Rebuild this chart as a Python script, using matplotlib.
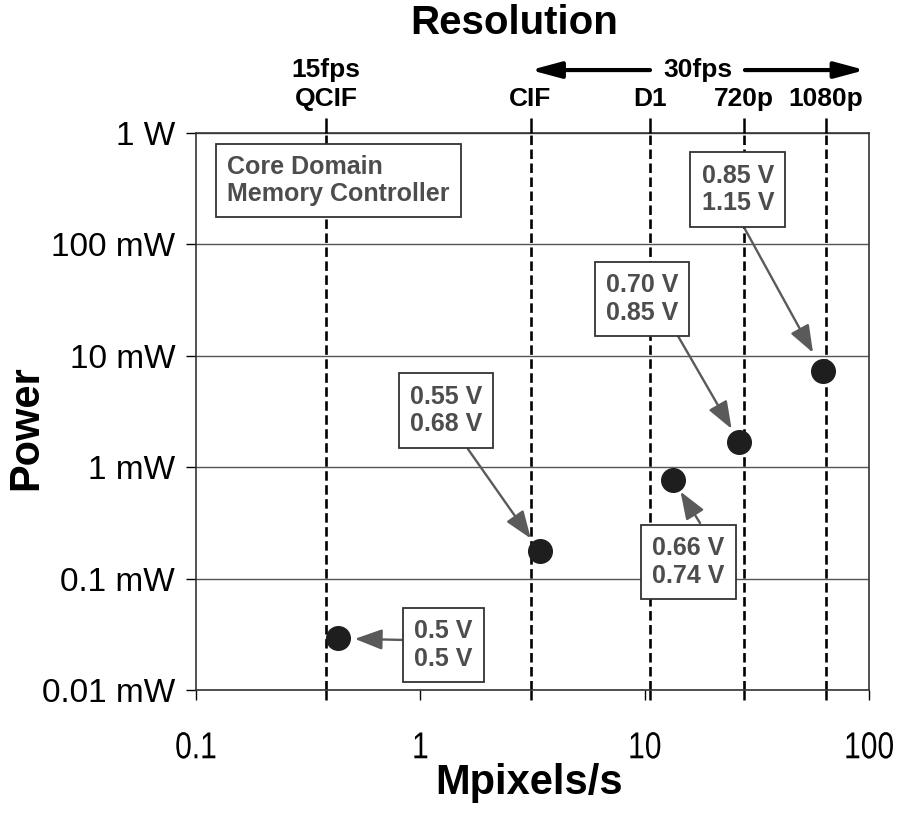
import matplotlib
matplotlib.use("Agg")
import matplotlib.pyplot as plt
from matplotlib.ticker import FixedLocator, NullLocator, NullFormatter
from matplotlib.patheffects import AbstractPathEffect
from matplotlib.transforms import Affine2D

# Video resolutions and their pixel rates (Mpixels/s)
res_names = ["QCIF", "CIF", "D1", "720p", "1080p"]
res_rate = [0.38, 3.1, 10.6, 27.7, 64.0]

# Operating points: throughput (Mpixels/s) and power (mW)
pt_rate = [0.43, 3.4, 13.4, 26.4, 62.4]
pt_power = [0.029, 0.177, 0.77, 1.68, 7.3]

# Supply voltages for each point: core domain / memory controller
v_core = ["0.5 V", "0.55 V", "0.66 V", "0.70 V", "0.85 V"]
v_mem = ["0.5 V", "0.68 V", "0.74 V", "0.85 V", "1.15 V"]

x_ticks = [0.1, 1, 10, 100]
x_tick_labels = ["0.1", "1", "10", "100"]
y_ticks = [0.01, 0.1, 1, 10, 100, 1000]
y_tick_labels = ["0.01 mW", "0.1 mW", "1 mW", "10 mW", "100 mW", "1 W"]

plt.rcParams["font.family"] = ["Liberation Sans", "DejaVu Sans"]


class Squeeze(AbstractPathEffect):
    """Narrow glyph outlines horizontally about the text's own centre."""

    def __init__(self, sx=0.82):
        super().__init__()
        self.sx = sx

    def draw_path(self, renderer, gc, tpath, affine, rgbFace=None):
        ext = tpath.get_extents()
        cx = 0.5 * (ext.x0 + ext.x1)
        squeeze = Affine2D().translate(-cx, 0).scale(self.sx, 1).translate(cx, 0)
        renderer.draw_path(gc, tpath, squeeze + affine, rgbFace)


W, H = 900, 824
fig = plt.figure(figsize=(W / 100, H / 100), dpi=100)
ax = fig.add_axes([196 / W, 134 / H, 673 / W, 557 / H])
ax.set_xscale("log")
ax.set_yscale("log")
ax.set_xlim(0.1, 100)
ax.set_ylim(0.01, 1000)

for s in ax.spines.values():
    s.set_color("#333333")
    s.set_linewidth(1.2)

# horizontal decade grid
ax.yaxis.grid(True, color="#555555", lw=1.0, zorder=1)
ax.set_axisbelow(True)

# resolution markers
for xr in res_rate:
    ax.axvline(xr, color="black", lw=1.9, linestyle=(0, (3.6, 1.7)), zorder=2)

# operating points
ax.plot(pt_rate, pt_power, "o", ms=17, color="#1e1e1e", zorder=5)

# bottom axis
ax.xaxis.set_major_locator(FixedLocator(x_ticks))
ax.set_xticklabels(x_tick_labels, fontsize=27)
for lab in ax.get_xticklabels():
    lab.set_path_effects([Squeeze(0.8)])
ax.xaxis.set_minor_locator(FixedLocator(res_rate))
ax.xaxis.set_minor_formatter(NullFormatter())
ax.tick_params(axis="x", which="major", direction="out", length=7, width=1.0,
               pad=22, colors="black")
ax.tick_params(axis="x", which="minor", direction="out", length=7, width=1.8)

# left axis
ax.yaxis.set_major_locator(FixedLocator(y_ticks))
ax.yaxis.set_minor_locator(NullLocator())
ax.set_yticklabels(y_tick_labels, fontsize=24)
ax.tick_params(axis="y", direction="out", length=7, width=1.0, pad=8)

# top axis with resolution names
axt = ax.twiny()
axt.set_xscale("log")
axt.set_xlim(ax.get_xlim())
axt.xaxis.set_major_locator(FixedLocator(res_rate))
axt.xaxis.set_minor_locator(NullLocator())
axt.set_xticklabels(res_names, fontsize=19, fontweight="bold")
axt.tick_params(axis="x", direction="out", length=11, width=1.8, pad=5)
for s in axt.spines.values():
    s.set_visible(False)

# frame-rate annotations above the resolution names
row_y = 1.113
xt = ax.get_xaxis_transform()
ax.text(res_rate[0], row_y, "15fps", transform=xt, ha="center", va="center",
        fontsize=19, fontweight="bold")
ax.text(0.746, row_y, "30fps", transform=ax.transAxes, ha="center", va="center",
        fontsize=19, fontweight="bold")
head = "-|>,head_length=1.3,head_width=0.35"
ax.annotate("", xy=(res_rate[1], row_y), xycoords=xt,
            xytext=(0.6746, row_y), textcoords="axes fraction",
            arrowprops=dict(arrowstyle=head, color="black", lw=3,
                            mutation_scale=14, shrinkA=0, shrinkB=0),
            annotation_clip=False)
ax.annotate("", xy=(0.994, row_y), xycoords="axes fraction",
            xytext=(0.8157, row_y), textcoords="axes fraction",
            arrowprops=dict(arrowstyle=head, color="black", lw=3,
                            mutation_scale=14, shrinkA=0, shrinkB=0),
            annotation_clip=False)

# caption box
box_style = dict(boxstyle="square,pad=0.45", fc="white", ec="#333333", lw=1.3)
ax.text(0.0461, 0.9147, "Core Domain\nMemory Controller", transform=ax.transAxes,
        ha="left", va="center", fontsize=18, fontweight="bold", color="#4d4d4d",
        linespacing=1.15, bbox=box_style, zorder=6)

# voltage labels and pointer arrows
box_pos = [(0.3678, 0.0808), (0.3715, 0.5018), (0.7318, 0.2298),
           (0.6627, 0.7020), (0.8053, 0.8986)]
arrow_start = [(0.3105, 0.0898), (0.4040, 0.4327), (0.7489, 0.2998),
               (0.7162, 0.6355), (0.8157, 0.8276)]
arrow_gap = [12, 11, 10, 11, 15]
for i in range(len(pt_rate)):
    ax.annotate("", xy=(pt_rate[i], pt_power[i]), xycoords="data",
                xytext=arrow_start[i], textcoords="axes fraction",
                arrowprops=dict(arrowstyle="-|>,head_length=1.2,head_width=0.45",
                                color="#5a5a5a", lw=1.7, mutation_scale=14,
                                shrinkA=0, shrinkB=arrow_gap[i]),
                zorder=4)
    ax.text(box_pos[i][0], box_pos[i][1], f"{v_core[i]}\n{v_mem[i]}",
            transform=ax.transAxes, ha="center", va="center", fontsize=18,
            fontweight="bold", color="#4d4d4d", linespacing=1.2,
            bbox=box_style, zorder=6)

# titles
fig.text(514 / W, 1 - 23 / H, "Resolution", ha="center", va="center",
         fontsize=29, fontweight="bold")
fig.text(26 / W, 1 - 428 / H, "Power", ha="center", va="center", rotation=90,
         fontsize=30, fontweight="bold")
fig.text(529 / W, 1 - 783 / H, "Mpixels/s", ha="center", va="center",
         fontsize=30, fontweight="bold")

fig.savefig("out.png", dpi=100)
